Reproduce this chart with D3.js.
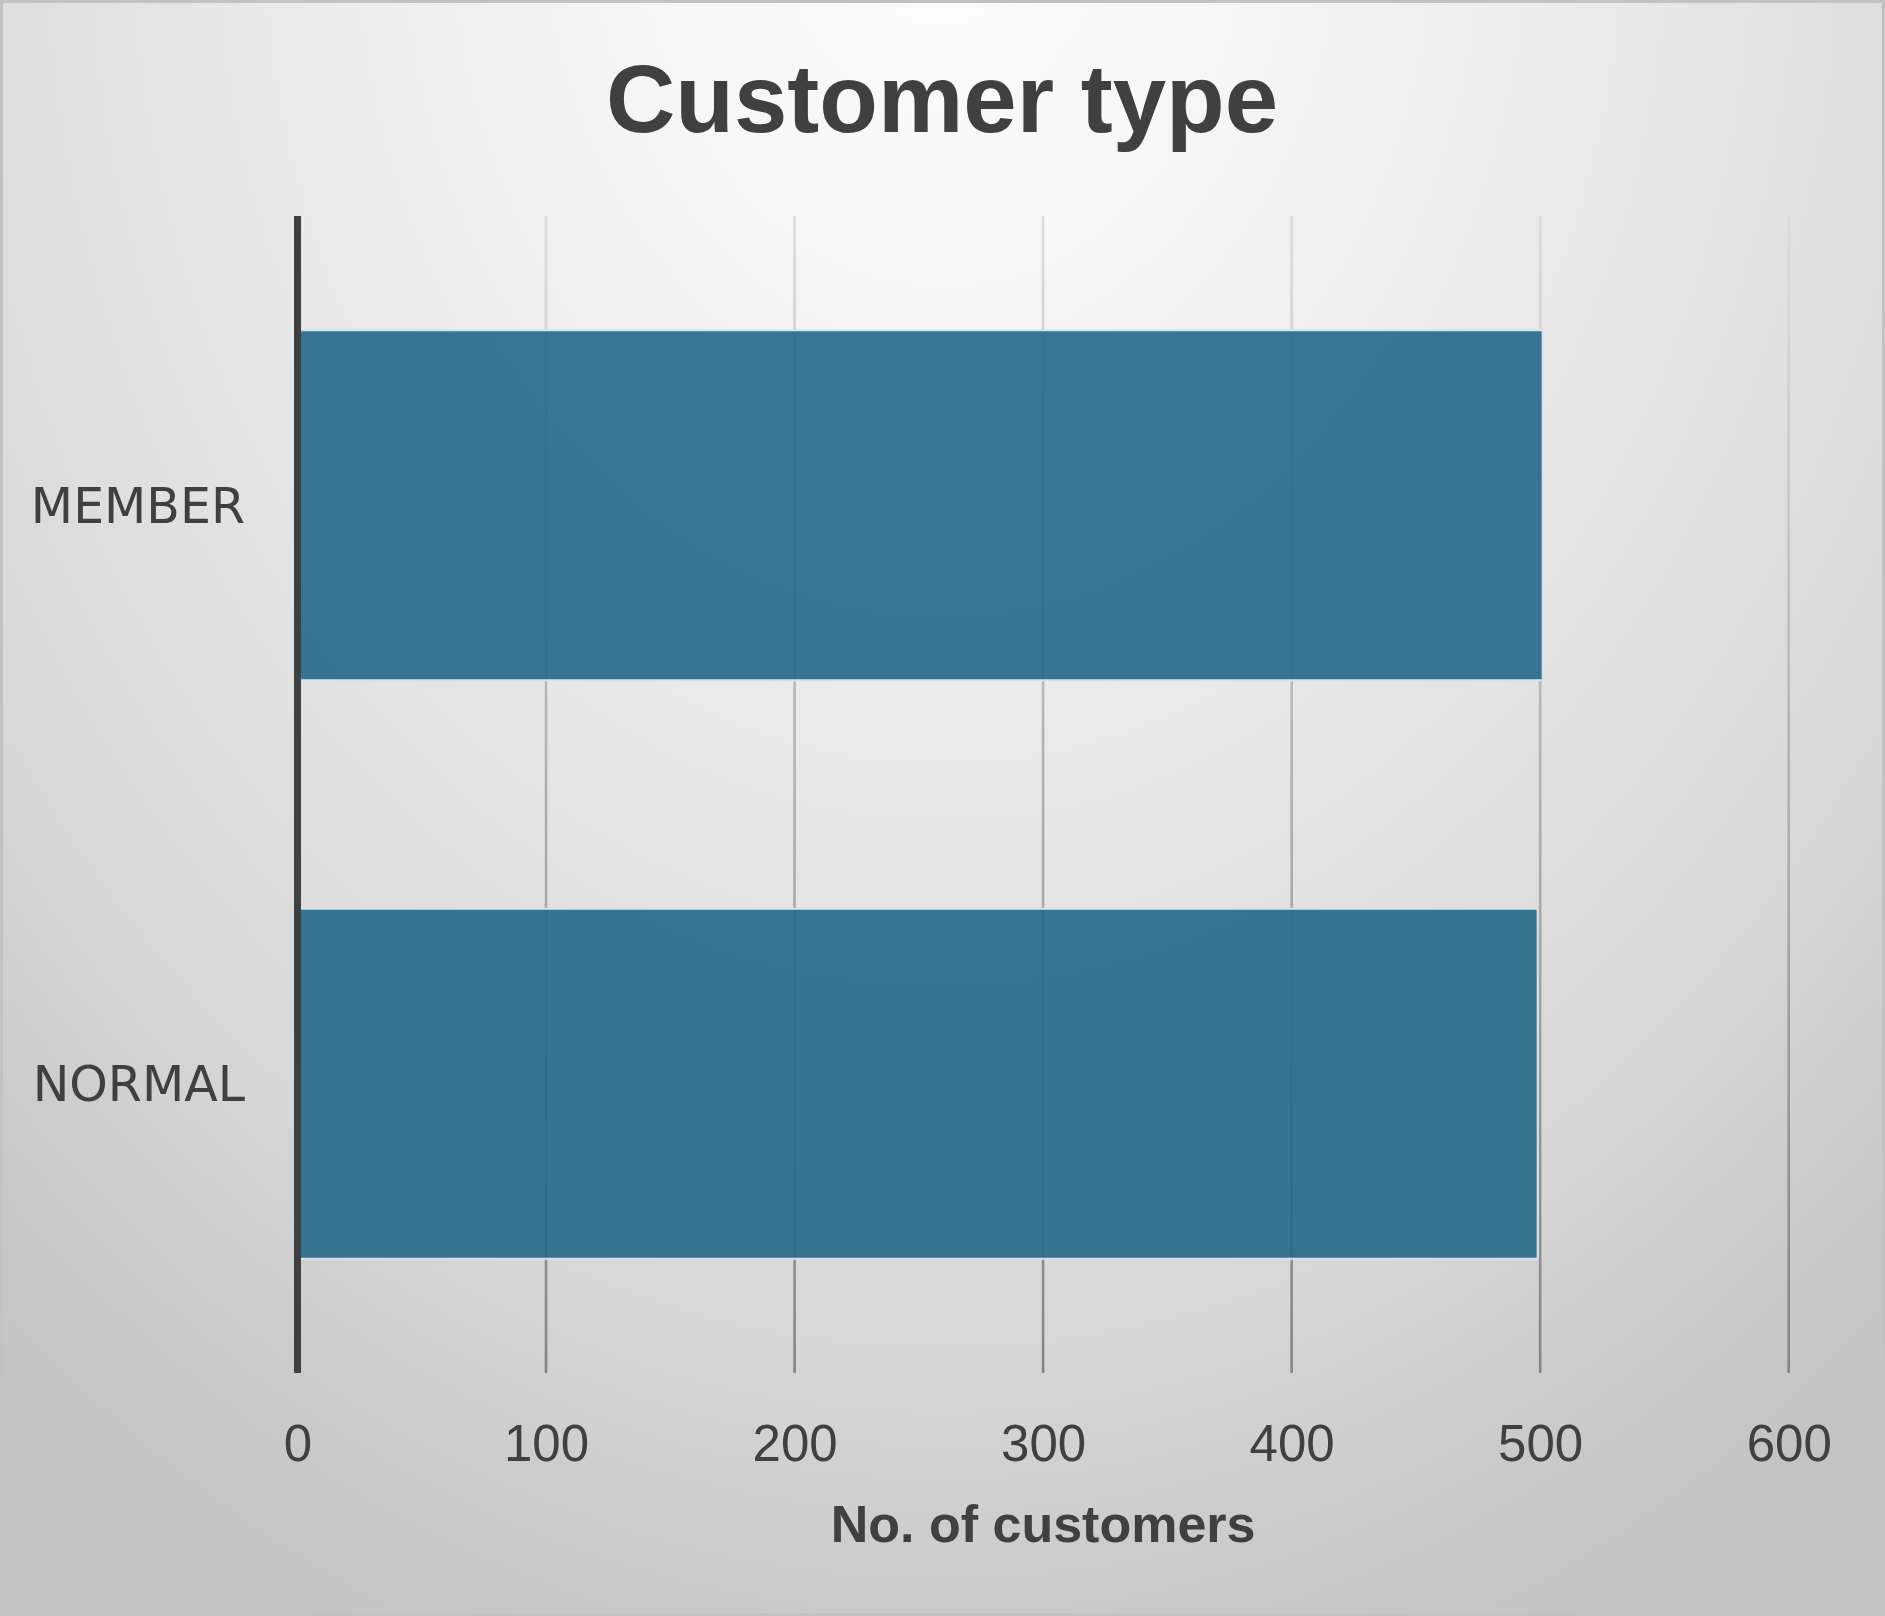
<!DOCTYPE html>
<html>
<head>
<meta charset="utf-8">
<script src="https://cdn.jsdelivr.net/npm/d3@7/dist/d3.min.js"></script>
<style>
  html, body { margin: 0; padding: 0; background: #ffffff; }
  svg { display: block; }
</style>
</head>
<body>
<svg id="chart" width="1885" height="1616"></svg>
<script>
// ---- data ----
const categories = ["MEMBER", "NORMAL"];
const customers = [501, 499];
const xTicks = [0, 100, 200, 300, 400, 500, 600];
const chartTitle = "Customer type";
const xAxisTitle = "No. of customers";

// ---- layout ----
const W = 1885, H = 1616;
const plot = { left: 297.5, right: 1788.7, top: 216, bottom: 1373 };
const textColor = "#404040";

const svg = d3.select("#chart");
const defs = svg.append("defs");

// background gradient
const bg = defs.append("radialGradient")
  .attr("id", "bgGrad")
  .attr("gradientUnits", "userSpaceOnUse")
  .attr("cx", 942).attr("cy", -100).attr("r", 1900)
  .attr("gradientTransform", "translate(942,0) scale(0.79,1) translate(-942,0)");
[[0, "#fdfdfd"], [0.2, "#f6f6f6"], [0.47, "#e8e8e8"], [0.75, "#d8d8d8"], [0.9, "#cacaca"], [1.05, "#c3c3c3"]]
  .forEach(([o, c]) => bg.append("stop").attr("offset", Math.min(o, 1)).attr("stop-color", c));

// gridline gradient
const gg = defs.append("linearGradient")
  .attr("id", "gridGrad")
  .attr("gradientUnits", "userSpaceOnUse")
  .attr("x1", 0).attr("y1", plot.top).attr("x2", 0).attr("y2", plot.bottom);
gg.append("stop").attr("offset", 0).attr("stop-color", "#dcdcdc");
gg.append("stop").attr("offset", 1).attr("stop-color", "#858585");

svg.append("rect")
  .attr("x", 1.5).attr("y", 1.5).attr("width", W - 3).attr("height", H - 3)
  .attr("fill", "url(#bgGrad)")
  .attr("stroke", "#c2c2c2").attr("stroke-width", 3);

// ---- scales ----
const x = d3.scaleLinear().domain([0, 600]).range([plot.left, plot.right]);
const y = d3.scaleBand().domain(categories).range([plot.top, plot.bottom])
  .paddingInner(0.395).paddingOuter(0.1975);

// ---- gridlines ----
svg.append("g").selectAll("line")
  .data(xTicks.filter(t => t !== 0))
  .join("line")
  .attr("x1", d => x(d)).attr("x2", d => x(d))
  .attr("y1", plot.top).attr("y2", plot.bottom)
  .attr("stroke", "url(#gridGrad)")
  .attr("stroke-width", 2.6);

// ---- bars ----
svg.append("g").selectAll("rect")
  .data(categories.map((c, i) => ({ c, v: customers[i] })))
  .join("rect")
  .attr("x", x(0))
  .attr("y", d => y(d.c))
  .attr("width", d => x(d.v) - x(0))
  .attr("height", y.bandwidth())
  .attr("fill", "#24698a")
  .attr("fill-opacity", 0.9)
  .attr("stroke", "#d4e3ea")
  .attr("stroke-width", 2);

// ---- vertical axis line at 0 ----
svg.append("line")
  .attr("x1", x(0)).attr("x2", x(0))
  .attr("y1", plot.top).attr("y2", plot.bottom)
  .attr("stroke", "#404040").attr("stroke-width", 7);

// ---- x axis tick labels ----
const xAxis = svg.append("g")
  .attr("transform", `translate(0,1461)`)
  .call(d3.axisBottom(x).tickValues(xTicks).tickSize(0).tickPadding(0).tickFormat(d3.format("d")));
xAxis.select(".domain").remove();
xAxis.selectAll("text")
  .attr("y", 0).attr("dy", null)
  .attr("fill", textColor)
  .style("font-family", "'Liberation Sans', Arial, sans-serif")
  .style("font-size", "51px");

// ---- y axis category labels ----
const yAxis = svg.append("g")
  .attr("transform", `translate(245,0)`)
  .call(d3.axisLeft(y).tickSize(0).tickPadding(0));
yAxis.select(".domain").remove();
yAxis.selectAll("text")
  .attr("x", 0).attr("dy", "0.36em")
  .attr("text-anchor", "end")
  .attr("fill", textColor)
  .style("font-family", "'DejaVu Sans', Verdana, sans-serif")
  .style("font-size", "49px");

// ---- titles ----
svg.append("text")
  .attr("x", 942).attr("y", 132)
  .attr("text-anchor", "middle")
  .attr("fill", textColor)
  .style("font-family", "'Liberation Sans', Arial, sans-serif")
  .style("font-weight", "bold")
  .style("font-size", "96px")
  .text(chartTitle);

svg.append("text")
  .attr("x", (plot.left + plot.right) / 2).attr("y", 1542)
  .attr("text-anchor", "middle")
  .attr("fill", textColor)
  .style("font-family", "'Liberation Sans', Arial, sans-serif")
  .style("font-weight", "bold")
  .style("font-size", "52px")
  .text(xAxisTitle);
</script>
</body>
</html>
